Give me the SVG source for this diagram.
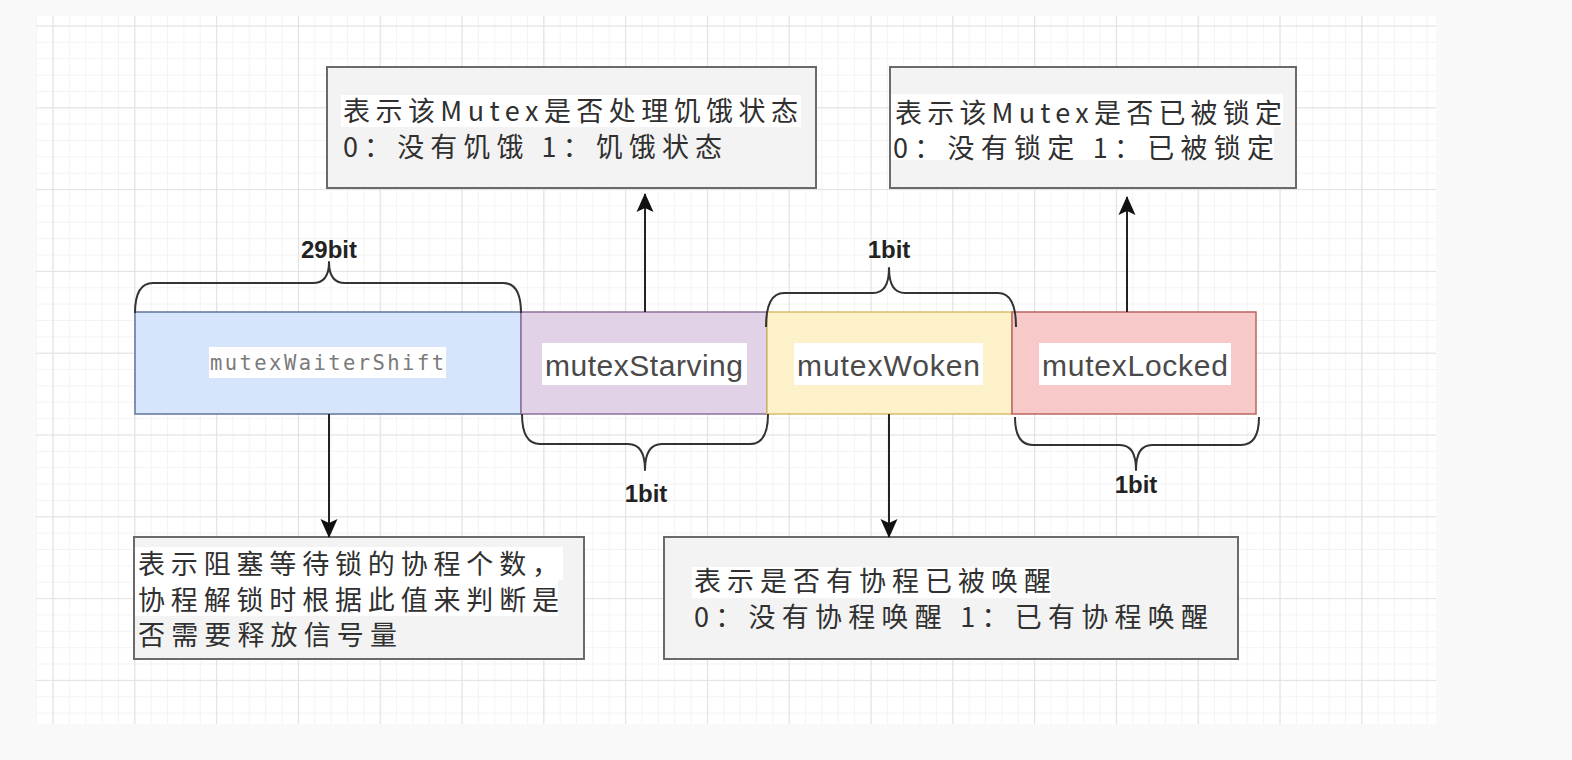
<svg xmlns="http://www.w3.org/2000/svg" width="1572" height="760" viewBox="0 0 1572 760">
  <defs>
    <pattern id="minor" patternUnits="userSpaceOnUse" x="52.5" y="25.5" width="16.36" height="16.36">
      <path d="M0.5 0 V16.36 M0 0.5 H16.36" stroke="#f3f3f3" stroke-width="1" fill="none"/>
    </pattern>
    <pattern id="major" patternUnits="userSpaceOnUse" x="52.5" y="25.5" width="81.8" height="81.8">
      <path d="M0.5 0 V81.8 M0 0.5 H81.8" stroke="#e2e2e2" stroke-width="1.2" fill="none"/>
    </pattern>
    <marker id="arrow" viewBox="0 0 20 20" refX="18" refY="10" markerWidth="20" markerHeight="20" markerUnits="userSpaceOnUse" orient="auto">
      <path d="M0 1.5 L19 10 L0 18.5 L4 10 Z" fill="#111"/>
    </marker>
    <style>
      .seg { stroke-width: 1.5; }
      .lbl { font-family: "Liberation Sans", Arial, sans-serif; font-size: 30px; fill: #4a4a4a; }
      .mono { font-family: "DejaVu Sans Mono", "Liberation Mono", monospace; font-size: 20.5px; fill: #7a7a7a; }
      .bit { font-family: "Liberation Sans", Arial, sans-serif; font-size: 24px; font-weight: bold; fill: #222; text-anchor: middle; }
      .note { fill: #f3f3f3; stroke: #6a6a6a; stroke-width: 2; }
      .nt { font-family: "Noto Sans CJK SC", "Noto Sans", sans-serif; font-size: 27px; fill: #303030; }
      .hl { fill: #ffffff; }
      .brace { fill: none; stroke: #333; stroke-width: 2; stroke-linejoin: round; }
      .conn { stroke: #222; stroke-width: 2; fill: none; }
    </style>
  </defs>

  <rect x="0" y="0" width="1572" height="760" fill="#f9f9f9"/>
  <rect x="36" y="16" width="1400" height="708" fill="#ffffff"/>
  <rect x="36" y="16" width="1400" height="708" fill="url(#minor)"/>
  <rect x="36" y="16" width="1400" height="708" fill="url(#major)"/>

  <g id="seg-waiter">
    <rect class="seg" x="135" y="312" width="386" height="102" fill="#d6e5fb" stroke="#5f7499"/>
    <rect class="hl" x="209" y="347" width="237" height="31"/>
    <text class="mono" x="210" y="370" textLength="234" lengthAdjust="spacing">mutexWaiterShift</text>
  </g>
  <g id="seg-starving">
    <rect class="seg" x="521" y="312" width="246" height="102" fill="#e2d2e8" stroke="#8d7199"/>
    <rect class="hl" x="542" y="343" width="205" height="42"/>
    <text class="lbl" x="545" y="376" textLength="198" lengthAdjust="spacing">mutexStarving</text>
  </g>
  <g id="seg-woken">
    <rect class="seg" x="767" y="312" width="245" height="102" fill="#fdf1c9" stroke="#d8bd6a"/>
    <rect class="hl" x="794" y="343" width="189" height="42"/>
    <text class="lbl" x="797" y="376" textLength="183" lengthAdjust="spacing">mutexWoken</text>
  </g>
  <g id="seg-locked">
    <rect class="seg" x="1012" y="312" width="244" height="102" fill="#f7c9c8" stroke="#b86462"/>
    <rect class="hl" x="1039" y="343" width="192" height="42"/>
    <text class="lbl" x="1042" y="376" textLength="186" lengthAdjust="spacing">mutexLocked</text>
  </g>

  <g id="brace-29bit">
    <path class="brace" d="M135 313 Q135 283 153 283 L313 283 Q329 283 329 262 Q329 283 345 283 L503 283 Q521 283 521 313"/>
    <text class="bit" x="329" y="258">29bit</text>
  </g>
  <g id="brace-starving">
    <path class="brace" d="M522 414 Q522 444 540 444 L628 444 Q645 444 645 470 Q645 444 662 444 L750 444 Q768 444 768 414"/>
    <text class="bit" x="646" y="502">1bit</text>
  </g>
  <g id="brace-woken">
    <path class="brace" d="M766 327 Q766 293 784 293 L873 293 Q889 293 889 268 Q889 293 905 293 L998 293 Q1016 293 1016 327"/>
    <text class="bit" x="889" y="258">1bit</text>
  </g>
  <g id="brace-locked">
    <path class="brace" d="M1015 417 Q1015 445 1033 445 L1120 445 Q1136 445 1136 470 Q1136 445 1152 445 L1241 445 Q1259 445 1259 417"/>
    <text class="bit" x="1136" y="493">1bit</text>
  </g>

  <g id="note-starving">
    <rect class="note" x="327" y="67" width="489" height="121"/>
    <rect class="hl" x="341" y="95" width="460" height="32"/>
    <text class="nt" x="343" y="121" textLength="455" lengthAdjust="spacing">表示该Mutex是否处理饥饿状态</text>
    <text class="nt" x="343" y="157" textLength="379" lengthAdjust="spacing">0：没有饥饿 1：饥饿状态</text>
  </g>
  <g id="note-locked">
    <rect class="note" x="890" y="67" width="406" height="121"/>
    <rect class="hl" x="891" y="94" width="392" height="33"/>
    <rect class="hl" x="891" y="127" width="383" height="33"/>
    <text class="nt" x="895" y="123" textLength="387" lengthAdjust="spacing">表示该Mutex是否已被锁定</text>
    <text class="nt" x="893" y="158" textLength="381" lengthAdjust="spacing">0：没有锁定 1：已被锁定</text>
  </g>
  <g id="note-waiter">
    <rect class="note" x="134" y="537" width="450" height="122"/>
    <rect class="hl" x="135" y="547" width="428" height="33"/>
    <rect class="hl" x="135" y="580" width="423" height="36"/>
    <text class="nt" x="138" y="574" textLength="421" lengthAdjust="spacing">表示阻塞等待锁的协程个数，</text>
    <text class="nt" x="138" y="610" textLength="421" lengthAdjust="spacing">协程解锁时根据此值来判断是</text>
    <text class="nt" x="138" y="645" textLength="259" lengthAdjust="spacing">否需要释放信号量</text>
  </g>
  <g id="note-woken">
    <rect class="note" x="664" y="537" width="574" height="122"/>
    <rect class="hl" x="692" y="567" width="359" height="31"/>
    <text class="nt" x="694" y="591" textLength="357" lengthAdjust="spacing">表示是否有协程已被唤醒</text>
    <text class="nt" x="694" y="627" textLength="514" lengthAdjust="spacing">0：没有协程唤醒 1：已有协程唤醒</text>
  </g>

  <g id="connectors">
    <line class="conn" x1="645" y1="312" x2="645" y2="194" marker-end="url(#arrow)"/>
    <line class="conn" x1="1127" y1="312" x2="1127" y2="197" marker-end="url(#arrow)"/>
    <line class="conn" x1="329" y1="414" x2="329" y2="537" marker-end="url(#arrow)"/>
    <line class="conn" x1="889" y1="414" x2="889" y2="537" marker-end="url(#arrow)"/>
  </g>
</svg>
